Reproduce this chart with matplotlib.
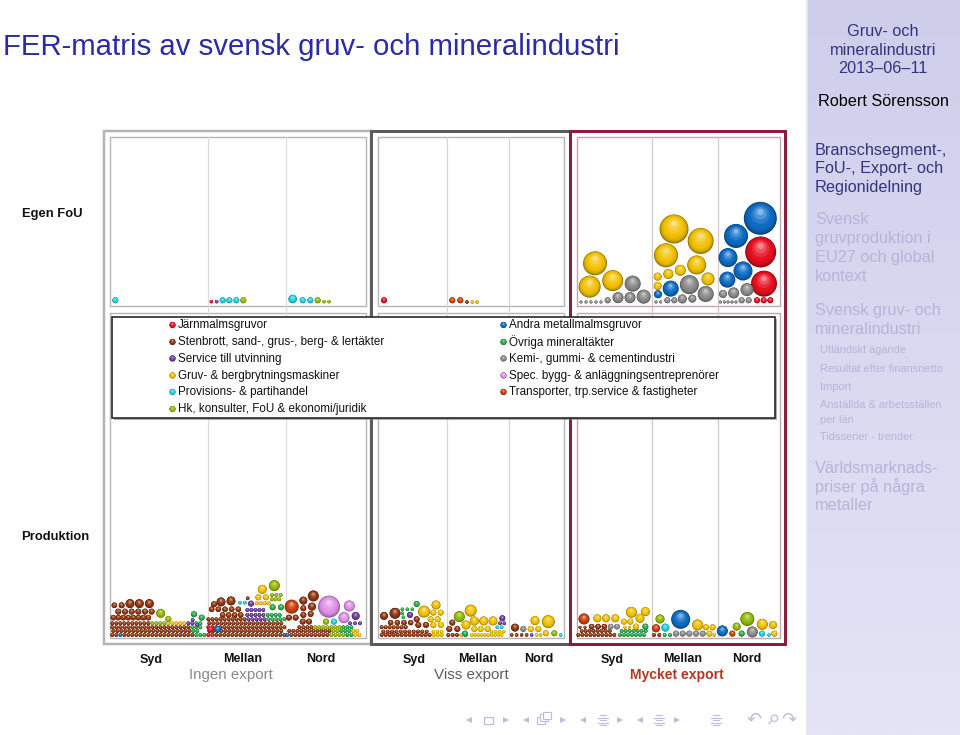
import matplotlib
matplotlib.use("Agg")
import matplotlib.pyplot as plt
import numpy as np
from matplotlib.colors import to_rgb
from matplotlib.patches import Rectangle

plt.rcParams['font.family'] = ['Liberation Sans', 'DejaVu Sans']

# ---------- texts ----------
title_text = "FER-matris av svensk gruv- och mineralindustri"
row_labels = ["Egen FoU", "Produktion"]
region_labels = ["Syd", "Mellan", "Nord"]
export_labels = ["Ingen export", "Viss export", "Mycket export"]
legend_left = ["Järnmalmsgruvor", "Stenbrott, sand-, grus-, berg- & lertäkter", "Service till utvinning",
               "Gruv- & bergbrytningsmaskiner", "Provisions- & partihandel", "Hk, konsulter, FoU & ekonomi/juridik"]
legend_left_codes = "RSVYCL"
legend_right = ["Andra metallmalmsgruvor", "Övriga mineraltäkter", "Kemi-, gummi- & cementindustri",
                "Spec. bygg- & anläggningsentreprenörer", "Transporter, trp.service & fastigheter"]
legend_right_codes = "BGKPT"

# ---------- branch colours ----------
branch_colors = {'R': '#e80f20', 'S': '#8e3410', 'V': '#6c3a9c', 'Y': '#f2c000', 'C': '#1fd0e0',
                 'L': '#93b800', 'B': '#0c6cc4', 'G': '#22ac48', 'K': '#8a8a8a', 'P': '#e090e8', 'T': '#cc3c0c'}

# ---------- bubbles: rows are (y, radius, first x, spacing, branch codes),
# singles are (x, y, radius, branch); all in crop units, radius in pixels ----------
prod_ingen_rows = [
    (195, 1.9, 37, 12, "SSBSSSSSSSSSSSSSSSSSSGGG"), (183, 1.9, 40, 12, "SSSSSSSSSSSSSSSSSSSSGG"),
    (172, 1.9, 37, 12, "SSSSSSSSSSSSSSSSSSSSGGG"),
    (160, 1.9, 37, 12, "SSSSSSSSSSLLLLYYYYYVVGG"),
    (143, 2.8, 40, 15, "SSSSSSSS"), (125, 3.0, 55, 20, "SSSSSS"),
    (195, 1.9, 325, 12, "RRSSSSSSSSSSSSSSSSSS"), (183, 1.9, 328, 12, "SSSSSSSSSSSSSSSSSSS"),
    (172, 1.9, 325, 12, "SSSSSSSSSSSSSSSSSSSS"), (160, 1.9, 328, 12, "SSSSSSSSSSSSSSSSSSS"),
    (148, 1.9, 325, 12, "SSSSSSSSSSVVVVVGGGGG"), (135, 2.8, 368, 18, "SSSS"),
    (135, 1.9, 442, 12, "VVVVV"), (135, 1.9, 503, 12, "GGGG"), (120, 1.9, 442, 12, "VVVVV"),
    (118, 2.8, 335, 20, "SSSSS"), (100, 1.9, 470, 12, "YYYY"), (88, 1.9, 516, 11, "LLL"), (75, 1.9, 516, 13, "LLL"),
    (195, 1.9, 562, 12, "BSSSSSSSSSSLLLLGGYY"), (183, 1.9, 568, 12, "SSSSSSSSSSSLLGGGYY"),
    (172, 1.9, 598, 12, "SSSSLLLLLLLGGG"),
]
prod_ingen_big = [
    (43, 106, 2.8, 'S'), (65, 106, 3, 'S'), (90, 101, 4.5, 'S'), (118, 101, 4.5, 'S'), (148, 101, 4.5, 'S'),
    (182, 130, 4.5, 'L'), (205, 147, 3, 'L'), (282, 133, 3, 'G'), (305, 143, 3, 'G'), (278, 150, 1.8, 'V'), (292, 165, 1.8, 'V'),
    (332, 178, 3.3, 'R'), (353, 178, 3.3, 'B'), (342, 103, 3, 'S'), (363, 96, 4.5, 'S'), (393, 93, 4.5, 'S'),
    (420, 98, 1.8, 'C'), (435, 98, 1.8, 'C'), (443, 85, 1.8, 'S'), (453, 101, 3, 'V'),
    (487, 58, 4.5, 'Y'), (523, 47, 5.5, 'L'), (475, 82, 3, 'Y'), (498, 82, 3, 'Y'),
    (518, 112, 3, 'G'), (543, 112, 3, 'G'), (575, 110, 7, 'T'), (610, 92, 4, 'S'), (640, 78, 5.5, 'S'),
    (636, 110, 4, 'S'), (610, 115, 3, 'S'), (610, 135, 3, 'S'), (632, 132, 3, 'S'), (567, 143, 3, 'S'),
    (587, 143, 3, 'S'), (608, 155, 3, 'S'), (627, 155, 3, 'S'),
    (687, 110, 11, 'P'), (748, 108, 5.5, 'P'), (732, 143, 5.5, 'P'), (767, 138, 4, 'V'),
    (678, 155, 3, 'L'), (702, 155, 3, 'C'), (750, 160, 1.8, 'V'), (765, 160, 1.8, 'V'), (780, 160, 1.8, 'V'),
]
prod_viss_rows = [
    (195, 1.9, 35, 12, "SSSSSSSSSSSSSYYY"), (185, 1.9, 40, 13, "SSSSSSSSSSS"), (172, 1.9, 35, 12, "SSSSSSS"),
    (195, 1.9, 235, 13, "SSSYG"), (195, 1.7, 305, 10, "YYYYYYYYYY"), (185, 1.7, 365, 12, "YYYY"),
    (195, 1.7, 425, 15, "SSSSV"), (195, 1.7, 500, 12, "YY"),
]
prod_viss_big = [
    (42, 138, 4, 'S'), (75, 130, 5.5, 'S'), (97, 118, 1.7, 'G'), (112, 118, 1.7, 'G'), (127, 118, 1.7, 'G'),
    (140, 102, 3, 'G'), (97, 130, 1.7, 'G'), (100, 142, 1.7, 'G'), (120, 135, 3, 'V'), (140, 148, 3, 'S'),
    (62, 158, 2.7, 'S'), (82, 158, 2.7, 'S'), (102, 158, 2.7, 'S'), (122, 158, 2.7, 'S'),
    (145, 165, 3, 'S'), (168, 165, 3, 'S'),
    (162, 125, 6, 'Y'), (198, 105, 4.5, 'Y'), (190, 128, 3, 'Y'), (212, 128, 3, 'Y'), (182, 148, 3, 'Y'), (203, 148, 3, 'Y'),
    (190, 165, 3, 'Y'), (213, 165, 3, 'Y'), (190, 185, 1.7, 'Y'), (203, 185, 1.7, 'Y'), (215, 185, 1.7, 'Y'),
    (268, 140, 5.5, 'L'), (302, 122, 6, 'Y'), (247, 158, 3, 'S'), (238, 177, 3, 'S'), (262, 177, 3, 'S'),
    (288, 165, 4.5, 'Y'), (313, 153, 4.5, 'Y'), (341, 153, 4.5, 'Y'), (369, 153, 4.5, 'Y'),
    (313, 177, 3, 'Y'), (332, 177, 3, 'Y'), (353, 177, 3, 'Y'), (285, 191, 3, 'G'), (397, 145, 3, 'V'),
    (390, 160, 1.8, 'V'), (403, 160, 1.8, 'V'), (382, 172, 1.8, 'C'), (395, 172, 1.8, 'C'),
    (435, 173, 4, 'S'), (460, 177, 3, 'K'), (482, 177, 3, 'Y'), (505, 177, 3, 'Y'), (495, 152, 4.5, 'Y'),
    (535, 155, 6.5, 'Y'), (528, 190, 3, 'Y'), (553, 190, 3, 'L'), (572, 195, 1.7, 'C'),
]
prod_mycket_rows = [
    (195, 1.9, 25, 12, "SSSSSSSSSS"), (195, 1.9, 150, 12, "GGGGGGG"), (183, 1.9, 35, 12, "SSSSSSSS"), (183, 1.9, 155, 12, "GGGGGGG"),
    (170, 2.8, 65, 19, "SSSKK"), (172, 1.5, 30, 15, "SS"), (172, 1.5, 165, 13, "YY"),
    (195, 1.9, 252, 16, "SSGG"), (191, 3, 318, 20, "KKKKKY"),
]
prod_mycket_big = [
    (42, 147, 5.5, 'T'), (82, 145, 4, 'Y'), (108, 145, 4, 'Y'), (136, 145, 4, 'Y'), (184, 127, 5.5, 'Y'), (226, 125, 4.5, 'Y'),
    (210, 145, 4.5, 'Y'), (162, 155, 3, 'Y'), (181, 155, 3, 'Y'), (198, 170, 3, 'Y'), (226, 170, 3, 'G'),
    (270, 147, 4.5, 'L'), (258, 175, 4, 'T'), (286, 173, 4, 'C'), (332, 148, 9.5, 'B'), (383, 165, 5.5, 'Y'),
    (408, 172, 3, 'Y'), (428, 172, 3, 'Y'), (433, 195, 1.7, 'Y'),
    (457, 183, 5.5, 'B'), (487, 191, 3, 'T'), (515, 191, 3, 'G'), (500, 170, 4, 'L'), (532, 147, 7, 'L'), (547, 186, 5.5, 'K'),
    (577, 163, 5.5, 'Y'), (609, 165, 4, 'Y'), (576, 191, 3, 'C'), (597, 195, 1.7, 'C'), (613, 191, 3, 'Y'),
]
fou_ingen_big = [
    (346, 541, 3, 'C'), (634, 545, 1.7, 'R'), (650, 545, 1.7, 'V'), (668, 541, 3, 'C'), (688, 541, 3, 'C'), (709, 541, 3, 'C'),
    (730, 541, 3, 'L'), (878, 537, 4.3, 'C'), (908, 541, 3, 'C'), (931, 541, 3, 'C'), (953, 541, 3, 'L'),
    (972, 545, 1.7, 'L'), (987, 545, 1.7, 'L'),
]
fou_viss_big = [
    (72, 91, 3, 'R'), (277, 91, 3, 'T'), (301, 91, 3, 'T'), (321, 96, 1.7, 'S'), (337, 96, 1.7, 'Y'), (351, 96, 1.7, 'Y'),
]
fou_mycket_big = [
    (33, 336, 1.5, 'K'), (48, 336, 1.5, 'K'), (63, 336, 1.5, 'K'), (78, 336, 1.5, 'K'), (93, 336, 1.5, 'K'), (113, 331, 3, 'K'),
    (144, 323, 5.5, 'K'), (180, 323, 5.5, 'K'), (221, 320, 7, 'K'), (188, 281, 8, 'K'), (128, 272, 10.5, 'Y'), (59, 290, 11, 'Y'), (75, 220, 12, 'Y'),
    (312, 117, 14.5, 'Y'), (392, 153, 13, 'Y'), (288, 196, 12, 'Y'), (380, 225, 9.5, 'Y'), (414, 267, 6.5, 'Y'), (331, 241, 5.5, 'Y'),
    (295, 252, 5, 'Y'), (263, 260, 4, 'Y'), (263, 288, 4, 'Y'), (302, 296, 8, 'B'), (264, 313, 4, 'B'), (358, 284, 9.5, 'K'),
    (407, 312, 8, 'K'), (367, 326, 4, 'K'), (337, 327, 4.5, 'K'), (313, 331, 3, 'K'), (292, 331, 3, 'K'), (258, 336, 1.5, 'K'), (272, 336, 1.5, 'K'),
    (571, 85, 16.5, 'B'), (498, 138, 12, 'B'), (474, 203, 9.5, 'B'), (519, 243, 9.5, 'B'), (472, 269, 8, 'B'), (572, 186, 15.5, 'R'), (582, 281, 13, 'R'),
    (531, 299, 6.5, 'K'), (491, 309, 5.5, 'K'), (459, 312, 4, 'K'), (451, 336, 1.5, 'K'), (463, 336, 1.5, 'K'), (474, 336, 1.5, 'K'), (486, 336, 1.5, 'K'),
    (498, 336, 1.5, 'K'), (515, 331, 3, 'K'), (536, 331, 3, 'K'), (561, 331, 3, 'R'), (581, 331, 3, 'R'), (601, 331, 3, 'R'),
]

# ---------- sidebar ----------
side_head = ["Gruv- och", "mineralindustri", "2013–06–11"]
side_author = "Robert Sörensson"
side_active = ["Branschsegment-,", "FoU-, Export- och", "Regionidelning"]
side_dim = ["Svensk", "gruvproduktion i", "EU27 och global", "kontext", "Svensk gruv- och", "mineralindustri"]
side_small = ["Utländskt ägande", "Resultat efter finansnetto", "Import", "Anställda & arbetsställen", "per län", "Tidsserier - trender"]
side_last = ["Världsmarknads-", "priser på några", "metaller"]

PX = 0.72  # points per pixel at dpi 100
fig = plt.figure(figsize=(9.6, 7.35), dpi=100, facecolor='white')
ax = fig.add_axes([0, 0, 1, 1])
ax.set_xlim(0, 960)
ax.set_ylim(735, 0)
ax.axis('off')


def sphere(xs, ys, rs, codes, z):
    xs, ys, rs = map(np.asarray, (xs, ys, rs))
    base = np.array([to_rgb(branch_colors[c]) for c in codes])
    white = np.ones_like(base)
    stops = [(1.0, 0.0, base * 0.6), (0.95, 0.03, base * 0.78), (0.87, 0.07, base * 0.92), (0.74, 0.13, base),
             (0.56, 0.22, base * 0.88 + white * 0.12), (0.38, 0.3, base * 0.72 + white * 0.28),
             (0.2, 0.38, base * 0.5 + white * 0.5)]
    for i, (f, off, col) in enumerate(stops):
        ax.scatter(xs, ys - rs * off, s=(2 * rs * f * PX) ** 2, c=col, linewidths=0, zorder=z + i * 0.01)


def draw_cell(origin, rows=(), big=()):
    ox, oy = origin
    xs, ys, rs, cs = [], [], [], []
    for y, r, x0, dx, codes in rows:
        for i, c in enumerate(codes):
            xs.append(ox + (x0 + i * dx) / 3)
            ys.append(oy + y / 3)
            rs.append(r)
            cs.append(c)
    if xs:
        sphere(xs, ys, rs, cs, 4)
    if big:
        sphere([ox + b[0] / 3 for b in big], [oy + b[1] / 3 for b in big], [b[2] for b in big], [b[3] for b in big], 5)


# sidebar gradient
grad = np.linspace(0, 1, 256)[:, None, None] * (np.array([228, 228, 246]) - np.array([206, 206, 235])) + np.array([206, 206, 235])
ax.imshow(grad / 255, extent=(806, 960, 735, 0), aspect='auto', zorder=0)
ax.set_xlim(0, 960)
ax.set_ylim(735, 0)
ax.add_patch(Rectangle((806, 0), 2, 735, fc='#e4e4f2', ec='none', zorder=0.5))

# frames
panels = [
    dict(out=(104, 370.5), inner=(109.5, 365.5), div=(208, 285.5), oc='#b4b4b4', ic='#b5b5b5', dc='#dcdcdc', lw=2.5),
    dict(out=(370.5, 570), inner=(377.5, 564), div=(446.7, 509), oc='#5c5c5c', ic='#b5b5b5', dc='#d6d6d6', lw=3),
    dict(out=(570, 785), inner=(576.7, 780), div=(651.7, 717.7), oc='#8c1c3c', ic='#c8a2ac', dc='#d8c4c4', lw=3),
]
for p in panels:
    a, b = p['out']
    ax.add_patch(Rectangle((a, 131), b - a, 513, fc='none', ec=p['oc'], lw=p['lw'] * PX, zorder=2 + (p['lw'] > 2.5)))
    i0, i1 = p['inner']
    for (t, bt) in [(136.7, 306.3), (313, 638)]:
        ax.add_patch(Rectangle((i0, t), i1 - i0, bt - t, fc='white', ec=p['ic'], lw=1.4 * PX, zorder=1.5))
    for d in p['div']:
        ax.plot([d, d], [136.7, 638], color=p['dc'], lw=1.2 * PX, zorder=1.6)

# bubbles
draw_cell((100, 570), prod_ingen_rows, prod_ingen_big)
draw_cell((370, 570), prod_viss_rows, prod_viss_big)
draw_cell((570, 570), prod_mycket_rows, prod_mycket_big)
draw_cell((0, 120), (), fou_ingen_big)
draw_cell((360, 270), (), fou_viss_big)
draw_cell((570, 190), (), fou_mycket_big)

# legend box
ax.add_patch(Rectangle((114, 319), 663, 101, fc='#777777', ec='none', alpha=0.6, zorder=6))
ax.add_patch(Rectangle((112, 317), 663, 101, fc='white', ec='#222222', lw=1.6 * PX, zorder=6.1))
leg_ys = [325, 342, 358.5, 375.5, 392, 409]
for lab, y in zip(legend_left, leg_ys):
    ax.text(178, y, lab, fontsize=11.6 * PX, va='center', ha='left', color='#111111', zorder=7)
sphere([172.5] * 6, leg_ys, [3.1] * 6, legend_left_codes, 7)
for lab, y in zip(legend_right, leg_ys):
    ax.text(509, y, lab, fontsize=11.6 * PX, va='center', ha='left', color='#111111', zorder=7)
sphere([503.5] * 5, leg_ys[:5], [3.1] * 5, legend_right_codes, 7)

# labels
ax.text(3, 46.5, title_text, fontsize=29.4 * PX, color='#2b2ba6', va='center', ha='left')
ax.text(22, 213.5, row_labels[0], fontsize=13 * PX, fontweight='bold', color='#111111', va='center')
ax.text(21, 537, row_labels[1], fontsize=13 * PX, fontweight='bold', color='#111111', va='center')
for centres in [(151, 243, 321), (414, 478, 539), (612, 683, 747)]:
    for x, lab in zip(centres, region_labels):
        ax.text(x, 659.5, lab, fontsize=12.5 * PX, fontweight='bold', color='#111111', ha='center', va='center')
for x, lab, col, w, fs in zip((231, 471, 677), export_labels, ('#8a8a8a', '#5e5e5e', '#b23a22'),
                              ('normal', 'normal', 'bold'), (15.1, 15.2, 14)):
    ax.text(x, 675, lab, fontsize=fs * PX, fontweight=w, color=col, ha='center', va='center')

# sidebar text
c_act, c_dim = '#33337f', '#b5b5da'
for y, s in zip((31, 50, 68.5), side_head):
    ax.text(883, y, s, fontsize=16.2 * PX, color=c_act, ha='center', va='center')
ax.text(883, 101, side_author, fontsize=16.2 * PX, color='black', ha='center', va='center')
for y, s in zip((150, 168.5, 187), side_active):
    ax.text(815, y, s, fontsize=16.2 * PX, color=c_act, va='center')
for y, s in zip((219, 238.5, 257.5, 276, 310, 329), side_dim):
    ax.text(815, y, s, fontsize=16.2 * PX, color=c_dim, va='center')
for y, s in zip((350, 368.5, 387, 405, 419.5, 437), side_small):
    ax.text(820, y, s, fontsize=11 * PX, color=c_dim, va='center')
for y, s in zip((468, 487, 505.5), side_last):
    ax.text(815, y, s, fontsize=16.2 * PX, color=c_dim, va='center')

# navigation symbols
nav = '#bcbcde'
ax.plot([469, 526, 583, 640], [720] * 4, ls='none', marker='<', ms=4.5, color=nav, mew=0)
ax.plot([506, 563, 620, 677], [720] * 4, ls='none', marker='>', ms=4.5, color=nav, mew=0)
ax.add_patch(Rectangle((484, 716.5), 9, 7, fc='none', ec=nav, lw=0.9))
for dx, dy in [(0, 0), (3, -2.5), (6, -5)]:
    ax.add_patch(Rectangle((537 + dx, 716.5 + dy), 8, 7, fc='white', ec=nav, lw=0.8))
for x in (603, 659, 716):
    for i, hw in enumerate((3, 5, 3, 5, 3)):
        ax.plot([x - hw, x + hw], [715 + i * 2.6] * 2, color=nav, lw=0.8)
ax.text(754, 720, "↶", fontsize=13, color=nav, ha='center', va='center', family='DejaVu Sans')
ax.text(772, 720, "⚲", fontsize=10, color=nav, ha='center', va='center', family='DejaVu Sans', rotation=-45)
ax.text(789, 720, "↷", fontsize=13, color=nav, ha='center', va='center', family='DejaVu Sans')

fig.savefig('out.png', dpi=100)
